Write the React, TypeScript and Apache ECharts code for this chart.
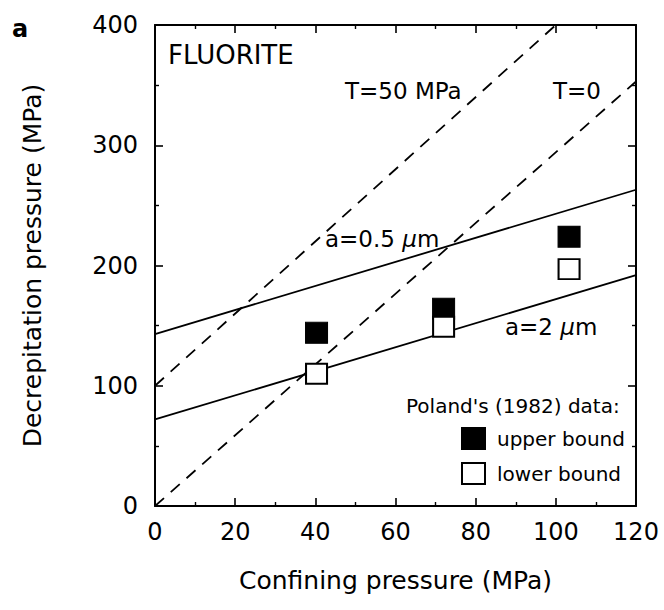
import React, { useEffect, useRef } from "react";
import * as echarts from "echarts";

// Confining pressure (MPa) and decrepitation pressure (MPa)
const lineA05: [number, number][] = [[0, 143], [120, 263]];
const lineA2: [number, number][] = [[0, 72], [120, 192]];
const lineT0: [number, number][] = [[0, 0], [120, 353]];
const lineT50: [number, number][] = [[0, 100], [100, 400]];

const upperBound: [number, number][] = [[40.3, 144], [72, 164], [103.3, 224]];
const lowerBound: [number, number][] = [[40.3, 110], [72, 149], [103.3, 197]];

const xTicks = [0, 20, 40, 60, 80, 100, 120];
const yTicks = [0, 100, 200, 300, 400];

const FONT = "DejaVu Sans";
const GRID = { left: 155, right: 28, top: 25, bottom: 104 };

function makeAxis(extra: any): any {
  return {
    type: "value",
    axisLine: { show: true, onZero: false, lineStyle: { color: "#000", width: 2 } },
    axisTick: { show: true, inside: true, length: 8, lineStyle: { color: "#000", width: 1.6 } },
    minorTick: { show: true, splitNumber: 2, length: 4, lineStyle: { color: "#000", width: 1.4 } },
    splitLine: { show: false },
    minorSplitLine: { show: false },
    ...extra,
  };
}

const xMin = xTicks[0];
const xMax = xTicks[xTicks.length - 1];
const yMin = yTicks[0];
const yMax = yTicks[yTicks.length - 1];

function mainOption(): any {
  const lineStyleSolid = { color: "#000", width: 1.8, type: "solid" };
  const lineStyleDash = { color: "#000", width: 1.8, type: [12, 9] };
  const rich = { i: { fontStyle: "italic", fontSize: 23, fontFamily: FONT } };
  return {
    animation: false,
    backgroundColor: "#fff",
    textStyle: { fontFamily: FONT, color: "#000" },
    grid: { ...GRID },
    xAxis: makeAxis({
      position: "bottom",
      min: xMin,
      max: xMax,
      interval: 20,
      axisLabel: { fontSize: 24, color: "#000", margin: 14, fontFamily: FONT },
      name: "Confining pressure (MPa)",
      nameLocation: "middle",
      nameGap: 62,
      nameTextStyle: { fontSize: 25, color: "#000", fontFamily: FONT },
    }),
    yAxis: makeAxis({
      position: "left",
      min: yMin,
      max: yMax,
      interval: 100,
      axisLabel: { fontSize: 24, color: "#000", margin: 17, fontFamily: FONT },
      name: "Decrepitation pressure (MPa)",
      nameLocation: "middle",
      nameGap: 110,
      nameRotate: 90,
      nameTextStyle: { fontSize: 25, color: "#000", fontFamily: FONT },
    }),
    legend: {
      orient: "vertical",
      left: 461,
      top: 427,
      padding: 0,
      itemGap: 12,
      itemWidth: 23,
      itemHeight: 21,
      textStyle: { fontSize: 20, color: "#000", fontFamily: FONT, padding: [0, 0, 0, 7] },
      data: [
        { name: "upper bound", icon: "rect" },
        { name: "lower bound", icon: "rect" },
      ],
    },
    series: [
      { type: "line", name: "a=0.5", data: lineA05, showSymbol: false, symbol: "none", lineStyle: lineStyleSolid, z: 2 },
      { type: "line", name: "a=2", data: lineA2, showSymbol: false, symbol: "none", lineStyle: lineStyleSolid, z: 2 },
      { type: "line", name: "T=0", data: lineT0, showSymbol: false, symbol: "none", lineStyle: lineStyleDash, z: 2 },
      { type: "line", name: "T=50", data: lineT50, showSymbol: false, symbol: "none", lineStyle: lineStyleDash, z: 2 },
      {
        type: "scatter",
        name: "upper bound",
        data: upperBound,
        symbol: "rect",
        symbolSize: [22, 21],
        itemStyle: { color: "#000", borderColor: "#000", borderWidth: 1, opacity: 1 },
        z: 5,
      },
      {
        type: "scatter",
        name: "lower bound",
        data: lowerBound,
        symbol: "rect",
        symbolSize: [21, 20],
        itemStyle: { color: "#fff", borderColor: "#000", borderWidth: 2, opacity: 1 },
        z: 5,
      },
    ],
    graphic: [
      { type: "text", left: 12, top: 17, style: { text: "a", font: `bold 24px ${FONT}`, fill: "#000" } },
      { type: "text", left: 168, top: 42, style: { text: "FLUORITE", font: `26px ${FONT}`, fill: "#000" } },
      { type: "text", left: 345, top: 79, style: { text: "T=50 MPa", font: `23px ${FONT}`, fill: "#000" } },
      { type: "text", left: 553, top: 79, style: { text: "T=0", font: `23px ${FONT}`, fill: "#000" } },
      { type: "text", left: 325, top: 227, style: { text: "a=0.5 {i|μ}m", font: `23px ${FONT}`, fill: "#000", rich } },
      { type: "text", left: 505, top: 315, style: { text: "a=2 {i|μ}m", font: `23px ${FONT}`, fill: "#000", rich } },
      { type: "text", left: 406, top: 396, style: { text: "Poland's (1982) data:", font: `20px ${FONT}`, fill: "#000" } },
    ],
  };
}

// Mirror axes (top and right) drawn by a second, transparent chart on top
function frameOption(): any {
  return {
    animation: false,
    grid: { ...GRID },
    xAxis: [
      { type: "value", position: "bottom", min: xMin, max: xMax, interval: 20, show: false },
      makeAxis({ position: "top", min: xMin, max: xMax, interval: 20, axisLabel: { show: false } }),
    ],
    yAxis: [
      { type: "value", position: "left", min: yMin, max: yMax, interval: 100, show: false },
      makeAxis({ position: "right", min: yMin, max: yMax, interval: 100, axisLabel: { show: false } }),
    ],
    series: [
      { type: "line", data: lineT0, showSymbol: false, silent: true, lineStyle: { opacity: 0 } },
    ],
  };
}

export default function App() {
  const mainRef = useRef<HTMLDivElement>(null);
  const frameRef = useRef<HTMLDivElement>(null);
  useEffect(() => {
    if (!mainRef.current || !frameRef.current) return;
    const chart = echarts.init(mainRef.current, null, { renderer: "svg" });
    chart.setOption(mainOption());
    const frame = echarts.init(frameRef.current, null, { renderer: "svg" });
    frame.setOption(frameOption());
    return () => {
      chart.dispose();
      frame.dispose();
    };
  }, []);
  return (
    <div>
      <div
        ref={mainRef}
        style={{ position: "fixed", left: 0, top: 0, width: 664, height: 610, background: "#fff" }}
      />
      <div
        ref={frameRef}
        style={{ position: "fixed", left: 0, top: 0, width: 664, height: 610, pointerEvents: "none", zIndex: 2 }}
      />
    </div>
  );
}
